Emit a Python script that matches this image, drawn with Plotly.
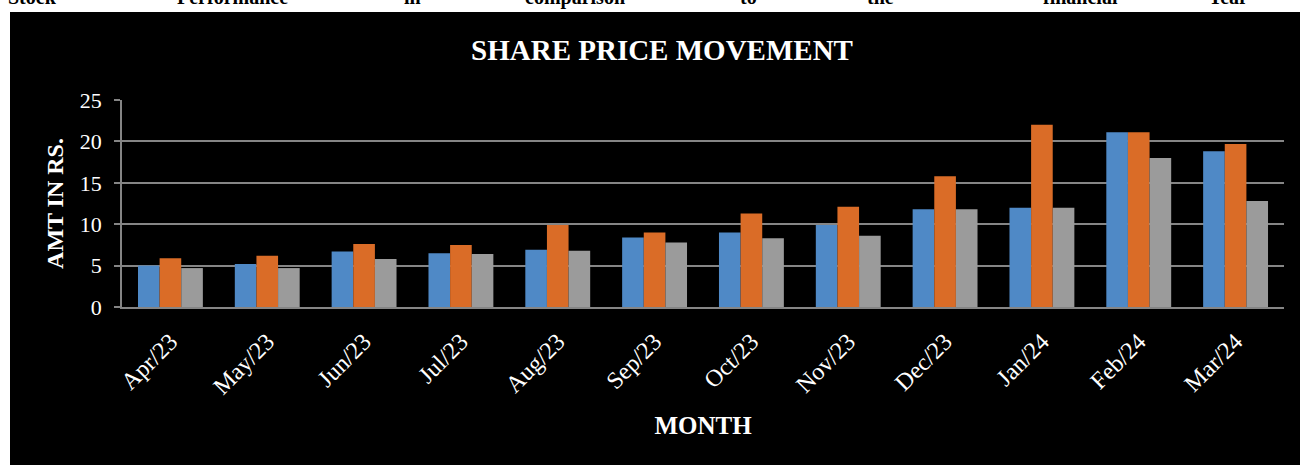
import plotly.graph_objects as go

months = ["Apr/23", "May/23", "Jun/23", "Jul/23", "Aug/23", "Sep/23",
          "Oct/23", "Nov/23", "Dec/23", "Jan/24", "Feb/24", "Mar/24"]
series_a = [5.0, 5.2, 6.7, 6.5, 6.9, 8.4, 9.0, 9.9, 11.8, 12.0, 21.1, 18.8]
series_b = [5.9, 6.2, 7.6, 7.5, 9.9, 9.0, 11.3, 12.1, 15.8, 22.0, 21.1, 19.7]
series_c = [4.7, 4.7, 5.8, 6.4, 6.8, 7.8, 8.3, 8.6, 11.8, 12.0, 18.0, 12.8]
series_colors = ["#4f89c6", "#da6c27", "#9b9b9b"]
series_names = ["Series A", "Series B", "Series C"]
y_ticks = [0, 5, 10, 15, 20, 25]
header_words = ["Stock", "Performance", "in", "comparison", "to", "the", "financial", "Year"]
header_x_px = [32, 232, 412, 575, 748, 880, 1080, 1228]

W, H = 1300, 465
L, R, T, B = 122, 16, 100, 158
pw, ph = W - L - R, H - T - B

def px_to_xp(px):
    return (px - L) / pw

def py_to_yp(py):
    return (H - B - py) / ph

serif = "Liberation Serif"

fig = go.Figure()
for name, vals, col in zip(series_names, [series_a, series_b, series_c], series_colors):
    fig.add_trace(go.Bar(x=months, y=vals, name=name, marker=dict(color=col, line=dict(width=0))))

fig.update_layout(
    width=W, height=H,
    margin=dict(l=L, r=R, t=T, b=B, autoexpand=False),
    paper_bgcolor="white",
    plot_bgcolor="#404040",
    showlegend=False,
    barmode="group",
    bargap=0.33,
    bargroupgap=0,
    title=dict(text="<b>SHARE PRICE MOVEMENT</b>", x=662 / W, xref="container", xanchor="center",
               y=1 - 50 / H, yref="container", yanchor="middle",
               font=dict(family=serif, size=29, color="white")),
    font=dict(family=serif, color="white"),
)

fig.update_yaxes(
    range=[0, 25], tickvals=y_ticks, ticktext=[str(v) for v in y_ticks],
    showgrid=True, gridcolor="#858585", gridwidth=1.5,
    showline=True, linecolor="#858585", linewidth=1.5,
    ticks="outside", ticklen=6, tickcolor="#858585", tickwidth=1.5,
    ticklabelstandoff=8,
    tickfont=dict(family=serif, size=22, color="white"),
    zeroline=False,
    title=dict(text="<b>AMT IN RS.</b>", standoff=9, font=dict(family=serif, size=24, color="white")),
)
fig.update_xaxes(
    showline=True, linecolor="#858585", linewidth=2,
    tickangle=-45, ticks="",
    ticklabelstandoff=9,
    tickfont=dict(family=serif, size=24, color="white"),
    title=dict(text="<b>MONTH</b>", standoff=18, font=dict(family=serif, size=25, color="white")),
)

# black chart frame
fig.add_shape(type="rect", xref="paper", yref="paper", layer="below",
              x0=px_to_xp(10), x1=px_to_xp(1310), y0=py_to_yp(475), y1=py_to_yp(12),
              fillcolor="black", line=dict(width=0))

# cut-off page text above the chart
for w, xp in zip(header_words, header_x_px):
    fig.add_annotation(text="<b>" + w + "</b>", xref="paper", yref="paper",
                       x=px_to_xp(xp), y=py_to_yp(-3), xanchor="center", yanchor="middle",
                       showarrow=False, font=dict(family=serif, size=20, color="black"))

fig.write_html("out.html", config={"displayModeBar": False},
               post_script="document.body.style.margin='0';")
